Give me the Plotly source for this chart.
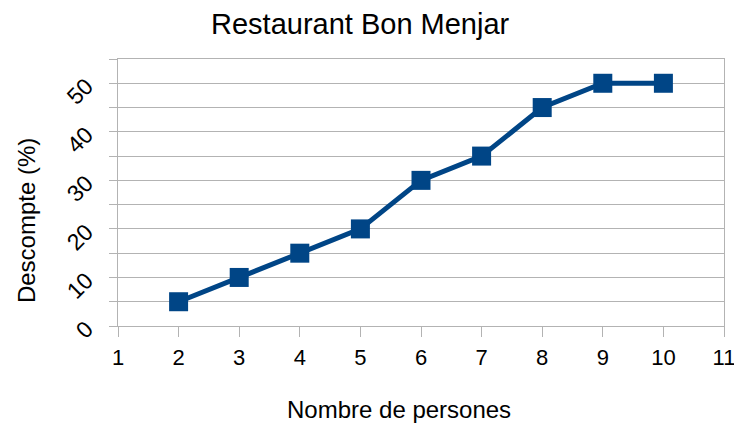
import plotly.graph_objects as go

persones = [2, 3, 4, 5, 6, 7, 8, 9, 10]
descompte = [5, 10, 15, 20, 30, 35, 45, 50, 50]
y_tick_vals = [0, 5, 10, 15, 20, 25, 30, 35, 40, 45, 50, 55]
y_tick_text = ["0", "", "10", "", "20", "", "30", "", "40", "", "50", ""]
x_tick_vals = [1, 2, 3, 4, 5, 6, 7, 8, 9, 10, 11]

FONT = "Liberation Sans, Arial, sans-serif"
GRID = "#b3b3b3"

fig = go.Figure()
fig.add_trace(go.Scatter(
    x=persones, y=descompte, mode="lines+markers",
    line=dict(color="#004586", width=5),
    marker=dict(symbol="square", size=19, color="#004586"),
    cliponaxis=False, showlegend=False,
))

fig.update_layout(
    width=726, height=423,
    margin=dict(l=110, r=10, t=51, b=105, autoexpand=False),
    paper_bgcolor="white", plot_bgcolor="white",
    title=dict(text="Restaurant Bon Menjar", x=0.485, xanchor="center",
               y=0.963, yanchor="middle",
               font=dict(family=FONT, size=29, color="black")),
    font=dict(family=FONT, color="black"),
    annotations=[
        dict(text="Nombre de persones", xref="paper", yref="paper",
             x=0.4637, y=-0.311, xanchor="center", yanchor="middle",
             showarrow=False, font=dict(family=FONT, size=24, color="black")),
        dict(text="Descompte (%)", xref="paper", yref="paper",
             x=-0.1518, y=0.393, xanchor="center", yanchor="middle",
             textangle=-90, showarrow=False,
             font=dict(family=FONT, size=24, color="black")),
    ],
)
fig.update_xaxes(
    range=[1, 11], tickvals=x_tick_vals, ticks="outside", ticklen=10,
    tickcolor=GRID, showgrid=False, showline=True, linecolor=GRID,
    linewidth=1, mirror=True, zeroline=False, automargin=False,
    ticklabeloverflow="allow", ticklabelstandoff=2,
    tickfont=dict(family=FONT, size=22, color="black"),
)
fig.update_yaxes(
    range=[0, 55], tickvals=y_tick_vals, ticktext=y_tick_text,
    ticks="outside", ticklen=8, tickcolor=GRID, tickangle=-45,
    ticklabelstandoff=18, automargin=False,
    showgrid=True, gridcolor=GRID, gridwidth=1,
    showline=True, linecolor=GRID, linewidth=1, mirror=True, zeroline=False,
    tickfont=dict(family=FONT, size=23, color="black"),
)

fig.write_html("out.html")
